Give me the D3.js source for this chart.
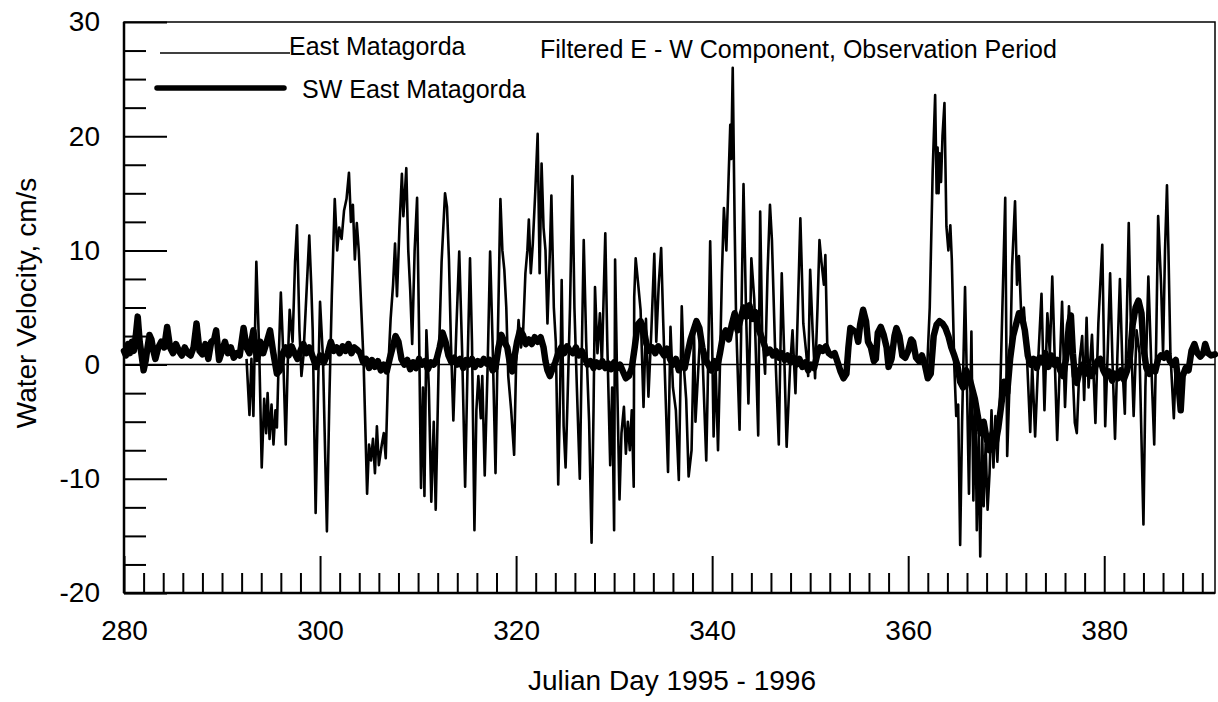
<!DOCTYPE html>
<html>
<head>
<meta charset="utf-8">
<script src="https://cdn.jsdelivr.net/npm/d3@7"></script>
<style>
  body { margin: 0; background: #fff; }
  svg { display: block; }
  text { font-family: "Liberation Sans", Arial, sans-serif; fill: #000; }
</style>
</head>
<body>
<div id="chart"></div>
<script>
// data: [julian day, velocity cm/s]
const eastMatagorda = [
  [292.5,0.5],[292.8,-4.4],[293.0,0.5],[293.2,-4.5],[293.5,9.0],[293.8,1.0],[294.05,-9.0],[294.3,-3.0],
  [294.5,-6.0],[294.65,-2.5],[294.85,-6.5],[295.05,-3.5],[295.25,-7.0],[295.45,-4.0],[295.6,-5.5],[295.8,1.0],
  [296.0,6.3],[296.2,2.0],[296.5,-7.0],[296.7,0.0],[296.9,4.8],[297.2,2.0],[297.45,9.0],[297.65,12.2],
  [297.9,3.0],[298.1,-1.0],[298.3,0.7],[298.6,6.0],[298.9,11.3],[299.1,7.0],[299.25,3.0],[299.55,-13.0],
  [299.8,-2.0],[300.0,5.5],[300.3,0.5],[300.7,-14.6],[300.95,-3.0],[301.2,6.0],[301.5,14.5],[301.75,10.0],
  [301.95,12.0],[302.2,11.0],[302.45,13.5],[302.7,14.5],[302.95,16.8],[303.15,12.5],[303.35,14.0],[303.55,9.2],
  [303.75,12.4],[303.95,10.0],[304.2,5.0],[304.45,0.0],[304.8,-11.3],[305.0,-7.0],[305.2,-8.4],[305.4,-6.5],
  [305.6,-9.5],[305.8,-5.4],[306.0,-8.8],[306.3,-7.0],[306.5,-6.0],[306.7,-8.2],[306.95,-0.5],[307.2,4.0],
  [307.45,7.0],[307.65,10.6],[307.85,6.0],[308.1,12.0],[308.35,16.7],[308.5,13.0],[308.65,15.0],[308.8,17.2],
  [309.0,10.0],[309.2,6.5],[309.4,1.8],[309.65,10.0],[309.9,14.6],[310.1,3.0],[310.3,-10.8],[310.5,-2.0],
  [310.65,-11.5],[310.85,3.0],[311.1,-2.0],[311.35,-12.0],[311.6,-5.0],[311.8,-12.7],[312.1,0.0],[312.4,9.0],
  [312.75,15.0],[312.95,13.8],[313.15,9.2],[313.35,2.0],[313.6,-4.9],[313.9,3.0],[314.2,9.9],[314.5,1.0],
  [314.8,-10.7],[315.05,0.0],[315.3,9.3],[315.5,2.0],[315.75,-14.5],[315.95,-4.0],[316.15,-1.0],[316.4,-4.7],
  [316.55,-1.0],[316.8,-9.7],[317.1,0.0],[317.35,9.9],[317.6,2.0],[317.9,-9.5],[318.15,3.0],[318.4,14.5],
  [318.6,10.0],[318.8,8.3],[319.0,5.0],[319.2,-1.0],[319.5,-4.0],[319.8,-7.9],[320.0,0.0],[320.25,3.9],
  [320.5,1.5],[320.7,2.5],[320.95,8.0],[321.15,10.0],[321.3,12.7],[321.5,8.0],[321.7,10.5],[321.95,15.0],
  [322.2,20.2],[322.4,8.0],[322.6,17.6],[322.8,12.0],[323.0,10.0],[323.2,3.6],[323.45,10.0],[323.6,14.8],
  [323.85,5.0],[324.05,2.0],[324.3,-10.5],[324.5,-2.0],[324.65,7.4],[324.85,-5.4],[325.05,-9.0],[325.25,-3.0],
  [325.5,5.0],[325.75,16.5],[325.95,5.0],[326.2,-2.0],[326.5,-10.0],[326.7,1.0],[326.9,10.9],[327.15,2.0],
  [327.45,-5.0],[327.7,-15.6],[327.9,-4.0],[328.05,6.8],[328.3,1.0],[328.55,4.5],[328.75,0.0],[329.1,11.5],
  [329.3,2.0],[329.6,-8.8],[329.8,-2.0],[330.0,-14.5],[330.1,9.2],[330.3,-1.0],[330.55,-11.8],[330.75,-6.0],
  [331.0,-3.7],[331.2,-7.8],[331.4,-5.0],[331.6,-7.5],[331.8,-4.0],[332.0,-10.7],[332.05,5.9],[332.2,9.3],
  [332.45,7.1],[332.7,4.8],[333.0,-3.7],[333.25,4.0],[333.5,-2.8],[333.8,3.0],[334.1,9.7],[334.3,2.0],
  [334.55,7.0],[334.8,10.2],[335.0,4.0],[335.5,-9.4],[335.75,3.3],[336.0,-2.0],[336.3,-4.0],[336.6,-10.1],
  [336.9,5.1],[337.1,0.0],[337.35,-3.0],[337.6,-9.8],[337.9,-7.5],[338.15,3.0],[338.3,-5.0],[338.55,-1.0],
  [338.8,3.0],[339.05,0.0],[339.4,-8.4],[339.55,-2.0],[339.8,10.8],[340.0,2.0],[340.15,-6.3],[340.35,0.0],
  [340.6,-7.5],[340.8,0.0],[341.0,8.0],[341.2,13.7],[341.45,10.0],[341.7,17.0],[341.85,21.0],[341.95,18.0],
  [342.1,26.0],[342.3,12.0],[342.45,3.6],[342.8,-5.7],[343.0,5.0],[343.2,15.8],[343.45,5.0],[343.7,-3.4],
  [343.85,2.0],[344.0,9.3],[344.3,5.7],[344.7,-6.2],[344.9,13.4],[345.1,3.0],[345.4,-0.8],[345.65,8.0],
  [345.9,14.0],[346.1,10.9],[346.4,2.0],[346.8,-7.0],[347.1,8.0],[347.35,1.0],[347.6,-7.2],[347.95,-0.2],
  [348.2,3.0],[348.5,-2.5],[348.75,5.0],[349.0,12.8],[349.3,3.6],[349.6,1.0],[349.8,-1.0],[350.0,8.3],
  [350.25,3.0],[350.5,-1.2],[350.75,5.0],[350.95,10.9],[351.15,9.0],[351.4,7.0],[351.55,9.6],[351.75,1.5],
  [352.0,1.0],[352.1,null],
  [361.9,-1.0],[362.2,5.0],[362.5,17.0],[362.75,23.6],[362.9,15.0],[363.0,19.0],[363.1,15.0],[363.2,18.5],
  [363.35,16.0],[363.5,20.0],[363.7,22.9],[363.9,12.1],[364.1,10.0],[364.3,12.2],[364.45,9.2],[364.7,0.0],
  [364.9,-4.5],[365.1,-3.5],[365.3,-15.8],[365.5,-5.0],[365.8,6.8],[366.0,-2.0],[366.2,-11.3],[366.45,2.9],
  [366.65,-11.9],[366.85,-3.0],[367.0,-14.5],[367.2,-6.0],[367.35,-16.8],[367.55,-5.9],[367.7,-12.4],[367.9,-7.0],
  [368.1,-12.7],[368.3,-9.5],[368.5,-4.0],[368.7,-9.0],[368.9,-4.5],[369.1,-8.5],[369.4,-2.0],[369.9,14.6],
  [370.1,-8.0],[370.4,0.0],[370.6,8.6],[370.9,14.3],[371.1,7.0],[371.3,9.5],[371.55,3.9],[371.8,5.0],
  [372.1,1.0],[372.45,-5.9],[372.65,0.0],[372.95,-6.3],[373.3,1.0],[373.6,6.2],[373.9,-4.0],[374.2,4.5],
  [374.45,1.0],[374.7,7.7],[375.2,-6.6],[375.7,5.5],[376.0,-3.7],[376.4,5.1],[376.7,1.0],[377.0,-5.1],
  [377.2,-6.0],[377.5,0.5],[377.75,2.5],[377.95,-3.1],[378.2,4.1],[378.4,-2.0],[378.75,2.6],[379.1,-5.1],
  [379.4,3.6],[379.8,10.5],[380.1,-5.4],[380.35,1.0],[380.6,8.0],[380.85,0.0],[381.1,-6.5],[381.35,1.0],
  [381.6,7.5],[381.85,0.0],[382.1,-4.3],[382.5,12.4],[382.75,2.0],[383.0,-4.5],[383.3,3.0],[383.6,1.0],
  [384.0,-14.0],[384.2,-2.0],[384.5,7.7],[384.8,0.0],[385.1,-7.0],[385.3,2.0],[385.5,13.0],[385.8,7.0],
  [386.0,1.0],[386.2,10.0],[386.4,15.7],[386.55,10.0],[386.75,1.0],[387.1,-4.7],[387.3,0.0]
];

const swEastMatagorda = [
  [280.0,1.2],[280.2,0.8],[280.4,1.8],[280.6,1.0],[280.8,2.0],[281.0,1.2],[281.2,2.5],[281.4,4.2],
  [281.6,2.0],[281.8,0.8],[282.0,-0.5],[282.2,0.3],[282.4,1.5],[282.6,2.6],[282.8,2.2],[283.0,1.2],
  [283.2,0.5],[283.5,1.5],[283.8,2.0],[284.1,1.5],[284.4,3.3],[284.7,1.5],[285.0,1.0],[285.3,1.8],
  [285.6,1.2],[285.9,0.8],[286.2,1.5],[286.5,1.0],[286.8,0.8],[287.1,1.5],[287.4,3.6],[287.7,1.2],
  [288.0,0.9],[288.3,1.8],[288.6,0.5],[288.9,2.0],[289.2,2.2],[289.4,3.0],[289.7,0.4],[290.0,1.2],
  [290.3,2.0],[290.6,1.0],[290.9,1.5],[291.2,0.6],[291.5,1.0],[291.8,0.8],[292.2,3.2],[292.5,1.5],
  [292.8,1.0],[293.2,3.0],[293.4,1.5],[293.6,0.5],[293.9,2.0],[294.2,1.0],[294.5,1.8],[294.9,3.0],
  [295.2,1.2],[295.6,-0.8],[295.9,-0.5],[296.2,1.0],[296.5,1.5],[296.8,0.8],[297.1,1.6],[297.4,1.0],
  [297.7,0.5],[298.0,1.2],[298.3,1.8],[298.6,1.0],[298.9,1.5],[299.2,0.8],[299.6,-0.2],[300.0,0.8],
  [300.4,0.2],[300.8,1.0],[301.1,2.0],[301.4,1.2],[301.7,1.5],[302.0,1.0],[302.3,1.6],[302.6,1.2],
  [302.9,1.8],[303.2,1.0],[303.5,1.5],[303.8,1.3],[304.1,1.0],[304.4,0.2],[304.7,0.5],[305.0,-0.3],
  [305.3,0.4],[305.6,-0.2],[305.9,0.3],[306.2,-0.5],[306.5,0.0],[306.8,-0.6],[307.1,0.5],[307.4,1.5],
  [307.7,2.5],[308.0,2.0],[308.3,0.5],[308.6,0.0],[308.9,0.4],[309.2,-0.4],[309.5,0.2],[309.8,-0.3],
  [310.1,0.5],[310.4,0.0],[310.7,0.3],[311.0,-0.4],[311.3,0.2],[311.6,0.0],[311.9,0.5],[312.2,1.5],
  [312.5,2.8],[312.8,2.0],[313.1,0.8],[313.4,0.2],[313.7,0.6],[314.0,0.0],[314.3,0.5],[314.6,-0.3],
  [314.9,0.4],[315.2,0.0],[315.5,0.5],[315.8,-0.2],[316.1,0.3],[316.4,0.0],[316.7,0.5],[317.0,0.1],
  [317.3,0.4],[317.6,-0.5],[317.9,-0.3],[318.2,1.5],[318.5,2.6],[318.8,2.0],[319.1,1.5],[319.35,0.2],
  [319.6,-0.6],[319.8,0.5],[320.1,2.0],[320.4,3.0],[320.7,2.6],[321.0,1.8],[321.3,2.2],[321.6,1.8],
  [321.9,2.4],[322.2,2.0],[322.5,2.4],[322.8,1.5],[323.0,0.3],[323.2,-0.5],[323.45,-1.0],[323.7,-0.4],
  [324.0,0.2],[324.3,1.0],[324.6,1.5],[324.9,1.0],[325.2,1.6],[325.5,1.2],[325.8,1.0],[326.1,1.5],
  [326.4,0.8],[326.7,1.2],[327.0,0.6],[327.3,0.0],[327.6,0.3],[327.9,-0.3],[328.2,0.2],[328.5,-0.2],
  [328.8,0.3],[329.1,-0.3],[329.4,0.1],[329.7,-0.4],[330.0,0.2],[330.3,-0.3],[330.6,0.0],[330.9,-0.6],
  [331.2,-1.2],[331.5,-1.0],[331.8,-0.3],[332.1,1.5],[332.4,3.5],[332.7,3.8],[333.0,3.2],[333.3,1.8],
  [333.6,1.2],[333.9,1.5],[334.2,1.0],[334.5,1.6],[334.8,1.2],[335.1,0.8],[335.4,1.4],[335.7,0.5],
  [336.0,0.0],[336.3,0.5],[336.6,-0.5],[336.9,0.2],[337.2,-0.3],[337.5,1.0],[337.8,2.2],[338.1,3.0],
  [338.4,3.8],[338.7,3.2],[339.0,1.5],[339.3,0.5],[339.6,0.0],[339.9,-0.5],[340.2,0.3],[340.5,-0.3],
  [340.8,1.0],[341.1,2.5],[341.4,3.0],[341.7,2.2],[342.0,3.5],[342.3,4.5],[342.6,3.0],[342.9,4.0],
  [343.2,5.0],[343.5,4.2],[343.8,5.2],[344.1,4.0],[344.4,4.6],[344.7,3.2],[345.0,2.5],[345.3,1.8],
  [345.6,1.0],[345.9,1.3],[346.2,0.8],[346.5,1.2],[346.8,0.6],[347.1,1.0],[347.4,0.4],[347.7,0.8],
  [348.0,0.2],[348.3,0.6],[348.6,0.0],[348.9,0.5],[349.2,-0.2],[349.5,0.2],[349.8,-0.5],[350.1,0.0],
  [350.4,-0.3],[350.7,0.8],[351.0,1.5],[351.3,1.2],[351.6,1.6],[351.9,1.0],[352.2,0.8],[352.5,1.0],
  [352.8,0.2],[353.1,-0.6],[353.4,-1.2],[353.7,-0.8],[353.9,1.5],[354.1,3.2],[354.4,3.0],[354.7,2.8],
  [354.9,2.0],[355.1,3.5],[355.4,4.8],[355.7,3.8],[355.9,2.0],[356.2,1.5],[356.5,0.3],[356.7,0.5],
  [356.9,2.8],[357.2,3.3],[357.5,2.6],[357.8,1.5],[358.0,-0.2],[358.3,0.5],[358.6,2.5],[358.8,3.2],
  [359.1,2.5],[359.4,0.8],[359.7,0.6],[360.0,1.2],[360.3,2.2],[360.5,2.0],[360.8,0.6],[361.1,0.3],
  [361.4,0.8],[361.7,0.0],[362.0,-1.2],[362.3,-0.8],[362.6,2.5],[362.9,3.5],[363.2,3.8],[363.5,3.6],
  [363.8,3.2],[364.1,2.5],[364.4,1.5],[364.7,0.8],[365.0,0.0],[365.3,-1.5],[365.6,-2.0],[365.9,-0.5],
  [366.2,-1.0],[366.5,-2.0],[366.8,-3.0],[367.1,-4.5],[367.4,-6.0],[367.7,-5.0],[368.0,-6.5],[368.3,-7.5],
  [368.6,-6.0],[368.9,-7.0],[369.2,-5.5],[369.5,-3.5],[369.8,-1.5],[370.1,-2.5],[370.4,0.5],[370.7,2.5],
  [371.0,3.5],[371.3,4.5],[371.6,4.2],[371.9,3.0],[372.2,0.8],[372.5,0.0],[372.8,0.5],[373.1,-0.3],
  [373.4,0.6],[373.7,0.2],[374.0,1.0],[374.3,-0.2],[374.6,0.8],[374.9,0.0],[375.2,0.4],[375.5,-0.5],
  [375.8,-1.0],[376.1,0.5],[376.4,3.5],[376.6,4.3],[376.8,1.0],[377.0,-1.0],[377.2,-1.6],[377.5,-0.5],
  [377.8,0.0],[378.1,-0.8],[378.4,-0.2],[378.7,-1.0],[379.0,-0.4],[379.3,0.3],[379.6,0.5],[379.9,-0.5],
  [380.2,-1.0],[380.5,-0.6],[380.8,-1.4],[381.1,-0.8],[381.4,-1.2],[381.7,-0.5],[382.0,-1.3],[382.3,-0.6],
  [382.6,0.5],[382.9,3.5],[383.2,5.0],[383.5,5.6],[383.8,4.5],[384.0,1.5],[384.3,-0.3],[384.6,-0.8],
  [384.9,-0.2],[385.2,-0.6],[385.5,0.5],[385.8,0.8],[386.1,0.6],[386.4,1.0],[386.7,0.3],[387.0,0.0],
  [387.3,0.4],[387.6,-2.0],[387.8,-4.0],[388.0,-1.0],[388.3,-0.3],[388.6,-0.5],[388.9,1.2],[389.2,1.8],
  [389.5,1.0],[389.8,0.7],[390.1,1.0],[390.3,1.8],[390.6,1.0],[390.9,0.8],[391.3,0.9]
];

const xMajorTicks = [280, 300, 320, 340, 360, 380];
const yMajorTicks = [-20, -10, 0, 10, 20, 30];
const seriesNames = ['East Matagorda', 'SW East Matagorda'];
const chartTitle = 'Filtered E - W Component, Observation Period';
const xLabel = 'Julian Day 1995 - 1996';
const yLabel = 'Water Velocity, cm/s';

const width = 1218;
const height = 702;
const margin = {top: 22, right: 3, bottom: 109, left: 124};

const x = d3.scaleLinear()
    .domain([280, 391.3])
    .range([margin.left, width - margin.right]);

const y = d3.scaleLinear()
    .domain([-20, 30])
    .range([height - margin.bottom, margin.top]);

const xMinor = d3.range(282, 391, 2).filter(d => d % 20 !== 0);
const yMinor = d3.range(-17.5, 30, 2.5).filter(d => d % 10 !== 0);

const svg = d3.select('#chart').append('svg')
    .attr('width', width)
    .attr('height', height);

// ticks ________________________________________________________________
const styleAxis = g => g
    .call(g => g.select('.domain').remove())
    .call(g => g.selectAll('line').attr('stroke', '#000').attr('stroke-width', 2))
    .attr('font-family', '"Liberation Sans", Arial, sans-serif')
    .attr('font-size', 28);

svg.append('g')
    .attr('transform', `translate(0, ${y(-20)})`)
    .call(d3.axisBottom(x).tickValues(xMajorTicks).tickSize(-37).tickPadding(27).tickFormat(d => String(d)))
    .call(styleAxis);

svg.append('g')
    .attr('transform', `translate(0, ${y(-20)})`)
    .call(d3.axisBottom(x).tickValues(xMinor).tickSize(-20).tickFormat(''))
    .call(styleAxis);

svg.append('g')
    .attr('transform', `translate(${x(280)}, 0)`)
    .call(d3.axisLeft(y).tickValues(yMajorTicks).tickSize(-43).tickPadding(24).tickFormat(d => String(d)))
    .call(styleAxis);

svg.append('g')
    .attr('transform', `translate(${x(280)}, 0)`)
    .call(d3.axisLeft(y).tickValues(yMinor).tickSize(-22).tickFormat(''))
    .call(styleAxis);

// frame ________________________________________________________________
svg.append('rect')
    .attr('x', x(280)).attr('y', y(30))
    .attr('width', x(391.3) - x(280)).attr('height', y(-20) - y(30))
    .attr('fill', 'none').attr('stroke', '#000').attr('stroke-width', 1.5);

svg.append('line')
    .attr('x1', x(280)).attr('x2', x(280)).attr('y1', y(30)).attr('y2', y(-20))
    .attr('stroke', '#000').attr('stroke-width', 2.5);
svg.append('line')
    .attr('x1', x(280)).attr('x2', x(391.3)).attr('y1', y(-20)).attr('y2', y(-20))
    .attr('stroke', '#000').attr('stroke-width', 2.5);

// zero line
svg.append('line')
    .attr('x1', x(280)).attr('x2', x(391.3)).attr('y1', y(0)).attr('y2', y(0))
    .attr('stroke', '#000').attr('stroke-width', 1.5);

// series _______________________________________________________________
const line = d3.line()
    .defined(d => d[1] != null)
    .x(d => x(d[0]))
    .y(d => y(d[1]));

svg.append('path')
    .datum(eastMatagorda)
    .attr('fill', 'none')
    .attr('stroke', '#000')
    .attr('stroke-width', 2.6)
    .attr('stroke-linejoin', 'round')
    .attr('d', line);

svg.append('path')
    .datum(swEastMatagorda)
    .attr('fill', 'none')
    .attr('stroke', '#000')
    .attr('stroke-width', 6.5)
    .attr('stroke-linejoin', 'round')
    .attr('stroke-linecap', 'round')
    .attr('d', line);

// legend and title _____________________________________________________
svg.append('line')
    .attr('x1', 160).attr('x2', 290).attr('y1', 53).attr('y2', 53)
    .attr('stroke', '#000').attr('stroke-width', 1.3);
svg.append('text')
    .attr('x', 289).attr('y', 55)
    .attr('font-size', 25)
    .text(seriesNames[0]);

svg.append('line')
    .attr('x1', 157).attr('x2', 284).attr('y1', 88).attr('y2', 88)
    .attr('stroke', '#000').attr('stroke-width', 5.5).attr('stroke-linecap', 'round');
svg.append('text')
    .attr('x', 302).attr('y', 98)
    .attr('font-size', 25)
    .text(seriesNames[1]);

svg.append('text')
    .attr('x', 540).attr('y', 58)
    .attr('font-size', 25)
    .text(chartTitle);

// axis titles
svg.append('text')
    .attr('x', 672).attr('y', 690)
    .attr('text-anchor', 'middle')
    .attr('font-size', 28)
    .text(xLabel);

svg.append('text')
    .attr('transform', 'translate(36, 303) rotate(-90)')
    .attr('text-anchor', 'middle')
    .attr('font-size', 28)
    .text(yLabel);
</script>
</body>
</html>
